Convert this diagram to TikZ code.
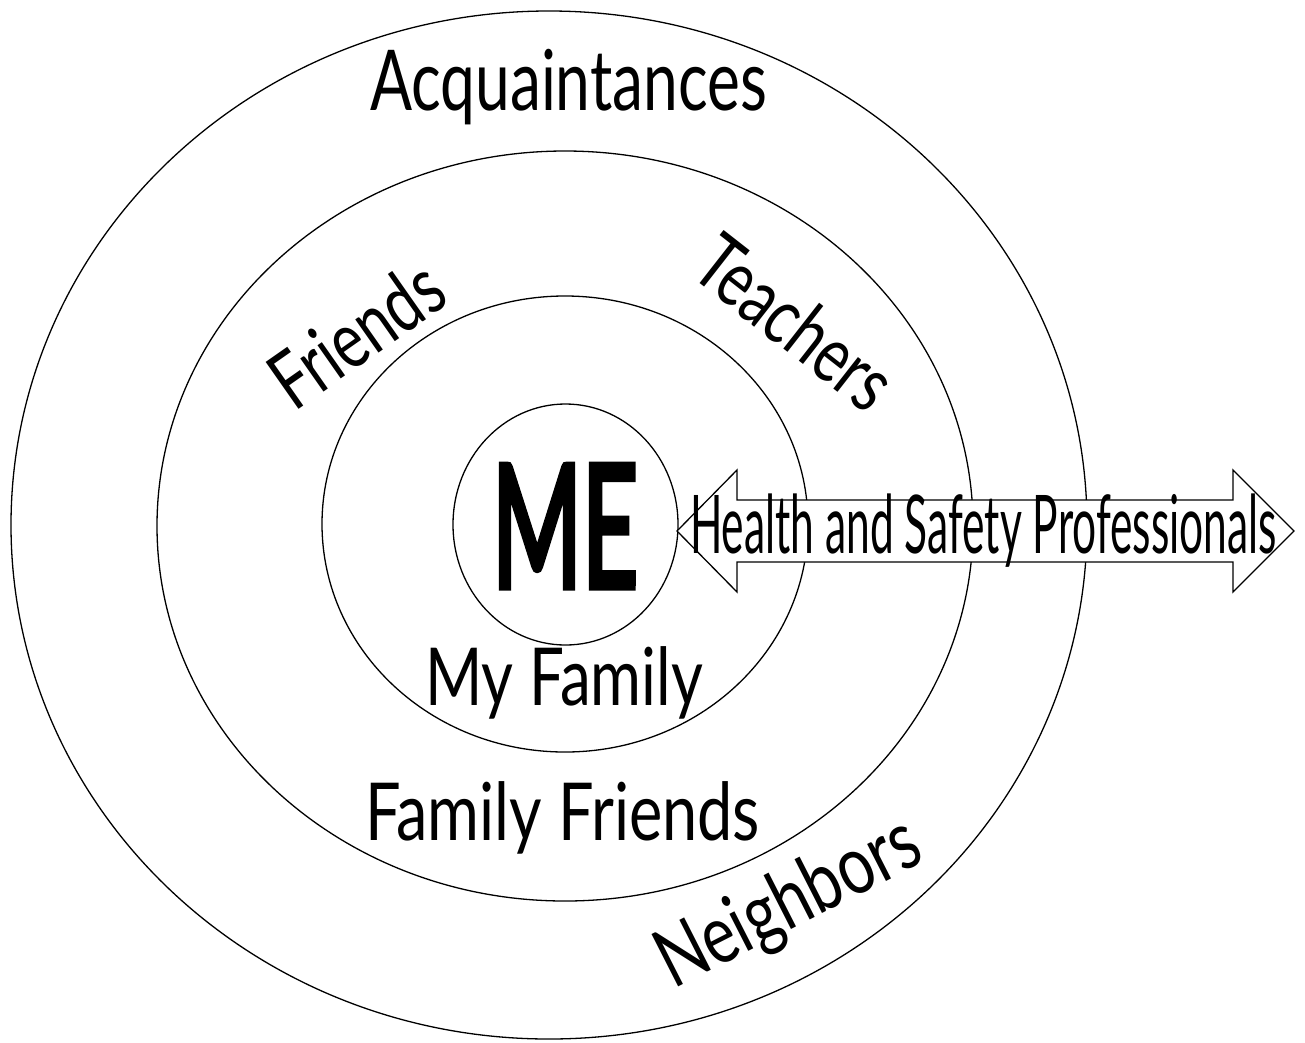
\documentclass[tikz,border=0pt]{standalone}
\usepackage{graphicx}
\usepackage{fontspec}
\setmainfont{Lato}
\usetikzlibrary{shapes.geometric}
\newcommand{\fitw}[3]{\resizebox{#1pt}{\height}{\fontsize{#2pt}{#2pt}\selectfont #3}}
\newcommand{\heavy}[1]{\special{pdf:code 2 Tr 7 w}#1\special{pdf:code 0 Tr}}
\tikzset{
  ring/.style={draw=black, line width=1.3pt, ellipse, inner sep=0pt},
  lbl/.style={inner sep=0pt, anchor=base, text=black},
  blockarrow/.style={draw=black, line width=1.3pt, fill=white, line join=miter}
}
\begin{document}
\begin{tikzpicture}[x=1pt,y=-1pt]
\useasboundingbox[fill=white] (0,0) rectangle (1305,1042);
% rings
\node[ring, minimum width=1076pt, minimum height=1028pt] (outer) at (549,525) {};
\node[ring, minimum width=816pt, minimum height=750pt] (mid) at (565,526) {};
\node[ring, minimum width=486pt, minimum height=456pt] (inner) at (565,524) {};
\node[ring, minimum width=225pt, minimum height=241pt] (me) at (565.5,524.5) {};
% double block arrow
\coordinate (lt) at (677,531);
\coordinate (rt) at (1294,531);
\draw[blockarrow] (lt) -- (737,470) -- (737,500) -- (1233,500) -- (1233,470) -- (rt)
  -- (1233,592) -- (1233,562) -- (737,562) -- (737,592) -- cycle;
% labels
\node[lbl] (acq) at (568.5,110) {\fitw{397}{84}{Acquaintances}};
\node[lbl] (metext) at (565,587) {\fitw{146}{170}{\heavy{ME}}};
\node[lbl] (hsp) at (983.5,553) {\fitw{587}{81}{Health and Safety Professionals}};
\node[lbl] (myfam) at (564,705) {\fitw{278}{80}{My Family}};
\node[lbl] (famfr) at (562.5,840) {\fitw{395}{80}{Family Friends}};
\node[lbl, rotate=35] (friends) at (373,357) {\fitw{192}{80}{Friends}};
\node[lbl, rotate=-38] (teachers) at (778,345) {\fitw{228}{79}{Teachers}};
\node[lbl, rotate=27] (neigh) at (800,925) {\fitw{285}{82}{Neighbors}};
\end{tikzpicture}
\end{document}
